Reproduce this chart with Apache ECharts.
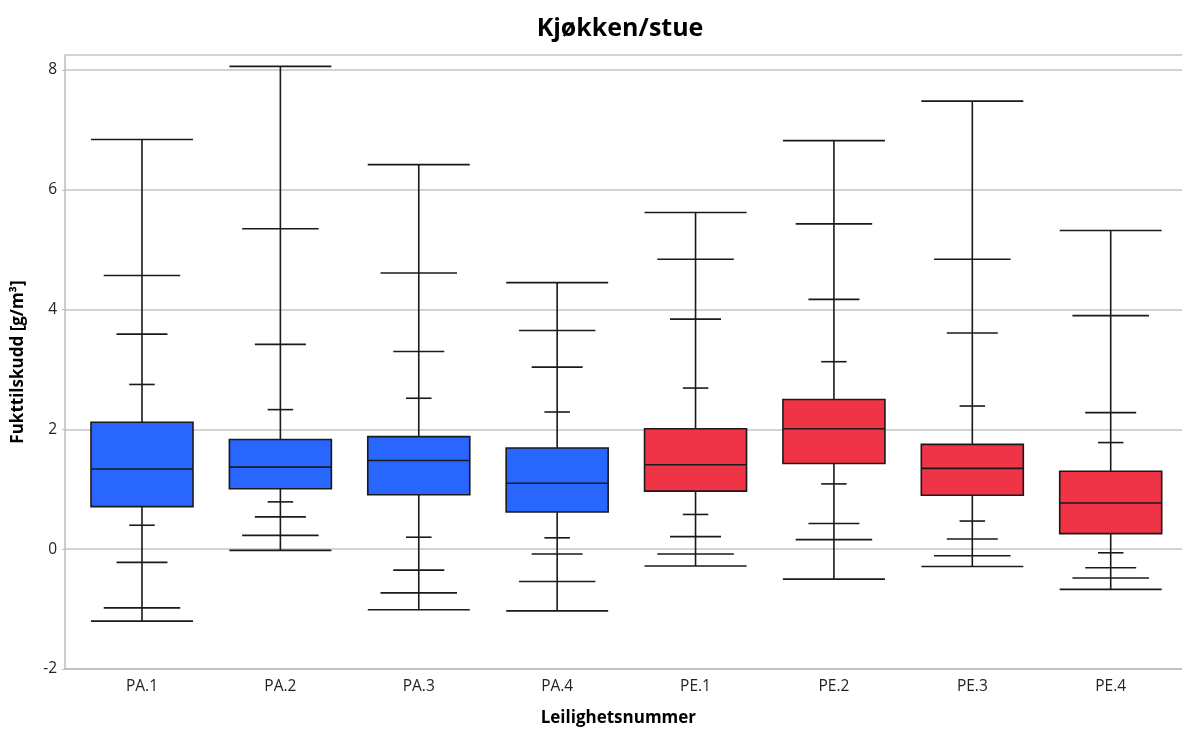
<!DOCTYPE html>
<html>
<head>
<meta charset="utf-8">
<script src="https://cdn.jsdelivr.net/npm/echarts@6/dist/echarts.min.js"></script>
<style>html,body{margin:0;padding:0;background:#fff}#c{width:1182px;height:729px}</style>
</head>
<body>
<div id="c"></div>
<script>
const categories = ['PA.1','PA.2','PA.3','PA.4','PE.1','PE.2','PE.3','PE.4'];
const groups = ['PA','PA','PA','PA','PE','PE','PE','PE'];
const minVals = [-1.20, -0.02, -1.01, -1.03, -0.28, -0.50, -0.29, -0.67];
const p1Vals  = [-0.98,  0.23, -0.73, -0.54, -0.08,  0.16, -0.11, -0.48];
const p5Vals  = [-0.22,  0.54, -0.35, -0.08,  0.21,  0.43,  0.17, -0.31];
const p10Vals = [ 0.40,  0.79,  0.20,  0.19,  0.58,  1.09,  0.47, -0.06];
const q1Vals  = [ 0.71,  1.01,  0.91,  0.62,  0.97,  1.43,  0.90,  0.26];
const medVals = [ 1.34,  1.37,  1.48,  1.10,  1.41,  2.01,  1.35,  0.77];
const q3Vals  = [ 2.12,  1.83,  1.88,  1.69,  2.01,  2.50,  1.75,  1.30];
const p90Vals = [ 2.75,  2.33,  2.52,  2.29,  2.69,  3.13,  2.39,  1.78];
const p95Vals = [ 3.59,  3.42,  3.30,  3.04,  3.84,  4.17,  3.61,  2.28];
const p99Vals = [ 4.57,  5.35,  4.61,  3.65,  4.84,  5.43,  4.84,  3.90];
const maxVals = [ 6.84,  8.06,  6.42,  4.45,  5.62,  6.82,  7.48,  5.32];
const yTicks = [-2, 0, 2, 4, 6, 8];

const colorOf = { PA: '#2966fe', PE: '#ef3447' };

const boxData = categories.map((c, i) => ({
  value: [minVals[i], q1Vals[i], medVals[i], q3Vals[i], maxVals[i]],
  itemStyle: { color: colorOf[groups[i]] }
}));

const tickData = [];
categories.forEach((c, i) => {
  tickData.push([i, p1Vals[i], 0.75]);
  tickData.push([i, p5Vals[i], 0.5]);
  tickData.push([i, p10Vals[i], 0.25]);
  tickData.push([i, p90Vals[i], 0.25]);
  tickData.push([i, p95Vals[i], 0.5]);
  tickData.push([i, p99Vals[i], 0.75]);
});

const BOXW = 102;
const YMIN = -2, YMAX = 8.25;
const font = '"Open Sans", "Noto Sans", sans-serif';

const chart = echarts.init(document.getElementById('c'), null, { renderer: 'canvas' });
chart.setOption({
  backgroundColor: '#fff',
  animation: false,
  title: {
    text: 'Kjøkken/stue',
    left: 615, top: 11, textAlign: 'center',
    textStyle: { fontFamily: font, fontSize: 25, fontWeight: 'bold', color: '#000' }
  },
  grid: [
    { left: 65, right: 0, top: 55, bottom: 60, containLabel: false, outerBoundsMode: 'none' },
    { left: 72.8, right: 2.1, top: 55, bottom: 60, containLabel: false, outerBoundsMode: 'none' }
  ],
  xAxis: [
    { type: 'value', gridIndex: 0, min: 0, max: 1, show: true,
      axisLine: { show: true, onZero: false, lineStyle: { color: '#bdbdbd', width: 1.5 } },
      axisTick: { show: false }, axisLabel: { show: false }, splitLine: { show: false } },
    { type: 'category', gridIndex: 1, data: categories, boundaryGap: true,
      axisLine: { show: false }, axisTick: { show: false },
      axisLabel: { fontFamily: font, fontSize: 15.5, color: '#222', margin: 10 },
      name: 'Leilighetsnummer', nameLocation: 'middle', nameGap: 41,
      nameTextStyle: { fontFamily: font, fontSize: 17, fontWeight: 'bold', color: '#000', padding: [0, 16, 0, 0] } }
  ],
  yAxis: [
    { type: 'value', gridIndex: 0, min: YMIN, max: YMAX, interval: 2,
      axisLine: { show: true, lineStyle: { color: '#bdbdbd', width: 1.5 } },
      axisTick: { show: true, length: 3, lineStyle: { color: '#bdbdbd' } },
      axisLabel: { fontFamily: font, fontSize: 15.5, color: '#222', margin: 8, showMaxLabel: false,
        formatter: v => (yTicks.indexOf(v) >= 0 ? String(v) : '') },
      splitLine: { show: true, lineStyle: { color: '#c4c4c4', width: 1.5 } },
      name: 'Fukttilskudd [g/m³]', nameLocation: 'middle', nameGap: 38, nameRotate: 90,
      nameTextStyle: { fontFamily: font, fontSize: 17, fontWeight: 'bold', color: '#000' } },
    { type: 'value', gridIndex: 1, min: YMIN, max: YMAX, show: false, splitLine: { show: false } }
  ],
  series: [
    {
      type: 'boxplot', xAxisIndex: 1, yAxisIndex: 1,
      boxWidth: [BOXW, BOXW],
      itemStyle: { borderColor: '#1a1a1a', borderWidth: 1.6 },
      data: boxData,
      z: 3
    },
    {
      type: 'custom', xAxisIndex: 1, yAxisIndex: 1,
      data: tickData,
      renderItem: function (params, api) {
        const p = api.coord([api.value(0), api.value(1)]);
        const w = BOXW * api.value(2);
        return {
          type: 'line',
          shape: { x1: p[0] - w / 2, y1: p[1], x2: p[0] + w / 2, y2: p[1] },
          style: { stroke: '#1a1a1a', lineWidth: 1.6 }
        };
      },
      z: 4
    }
  ]
});
</script>
</body>
</html>
